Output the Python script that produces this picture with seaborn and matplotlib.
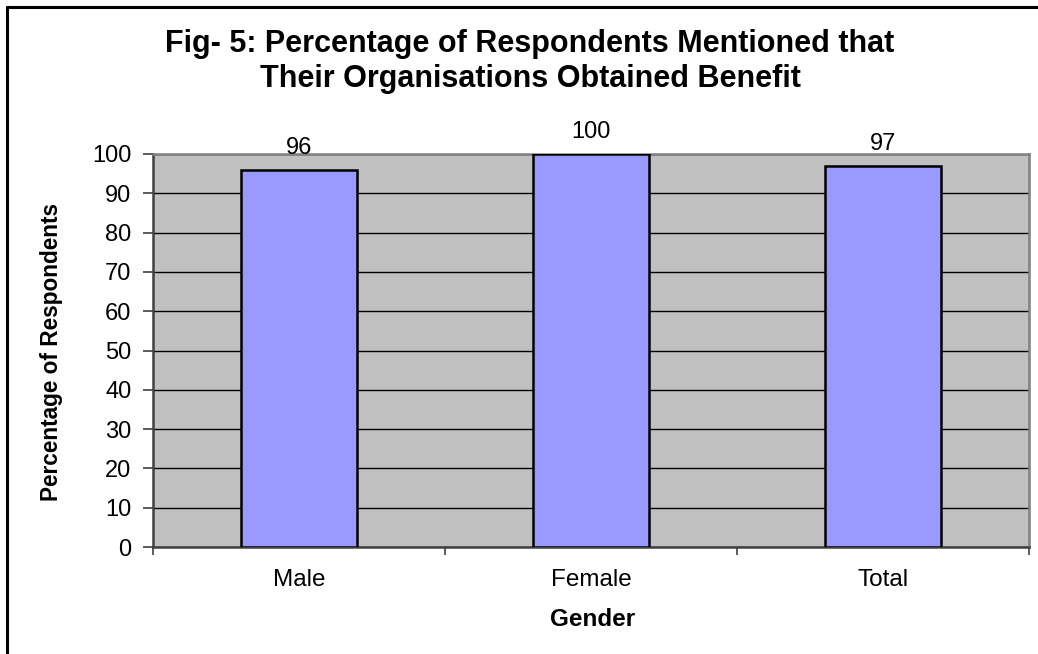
import matplotlib
matplotlib.use("Agg")
import matplotlib.pyplot as plt
import seaborn as sns
import pandas as pd
from matplotlib.lines import Line2D

categories = ["Male", "Female", "Total"]
values = [96, 100, 97]
yticks = [0, 10, 20, 30, 40, 50, 60, 70, 80, 90, 100]

sns.set_theme(style="white")
plt.rcParams['font.family'] = ['Liberation Sans', 'DejaVu Sans']

df = pd.DataFrame({"Gender": categories, "Percent": values})

W, H = 1038, 654
fig = plt.figure(figsize=(W / 100, H / 100), dpi=100)
fig.patch.set_facecolor("white")
ax = fig.add_axes([153 / W, 1 - 547 / H, (1029 - 153) / W, (547 - 154) / H])
ax.set_facecolor("#C0C0C0")

sns.barplot(data=df, x="Gender", y="Percent", ax=ax, color="#9999FF",
            width=0.4, edgecolor="black", linewidth=1.8, saturation=1, zorder=3)

ax.set_ylim(0, 100)
ax.set_xlim(-0.5, 2.5)
ax.set_yticks(yticks)
ax.yaxis.grid(True, color="black", linewidth=1.0, zorder=0)
ax.set_axisbelow(True)

for s in ["top", "right"]:
    ax.spines[s].set_color("#808080")
    ax.spines[s].set_linewidth(1.8)
for s in ["left", "bottom"]:
    ax.spines[s].set_color("#404040")
    ax.spines[s].set_linewidth(1.8)

ax.tick_params(axis="y", which="major", length=7.5, width=1.2, color="#404040",
               left=True, labelsize=17, pad=8, labelcolor="black")
ax.set_xticks([0, 1, 2])
ax.set_xticklabels(categories)
ax.tick_params(axis="x", which="major", length=0, labelsize=17.5, pad=16, labelcolor="black")
ax.set_xticks([-0.5, 0.5, 1.5, 2.5], minor=True)
ax.tick_params(axis="x", which="minor", length=5.5, width=1.2, color="#404040", bottom=True)

for i, v in enumerate(values):
    ax.annotate(str(v), (i, v), xytext=(0, 11.5), textcoords="offset points",
                ha="center", va="baseline", fontsize=17, color="black",
                annotation_clip=False)

ax.set_xlabel("")
ax.set_ylabel("")
fig.text(593 / W, 1 - 620 / H, "Gender", ha="center", va="center",
         fontsize=17.5, fontweight="bold", color="black")
fig.text(52 / W, 1 - 352 / H, "Percentage of Respondents", rotation=90,
         ha="center", va="center", fontsize=16.3, fontweight="bold", color="black")

fig.text(530 / W, 1 - 44 / H, "Fig- 5: Percentage of Respondents Mentioned that",
         ha="center", va="center", fontsize=22, fontweight="bold", color="black")
fig.text(530 / W, 1 - 79 / H, "Their Organisations Obtained Benefit",
         ha="center", va="center", fontsize=22, fontweight="bold", color="black")

fig.add_artist(Line2D([7 / W, 7 / W], [0, 1 - 7 / H], transform=fig.transFigure,
                      color="black", linewidth=2.2))
fig.add_artist(Line2D([7 / W, 1], [1 - 7 / H, 1 - 7 / H], transform=fig.transFigure,
                      color="black", linewidth=2.2))

fig.savefig("out.png", dpi=100)
